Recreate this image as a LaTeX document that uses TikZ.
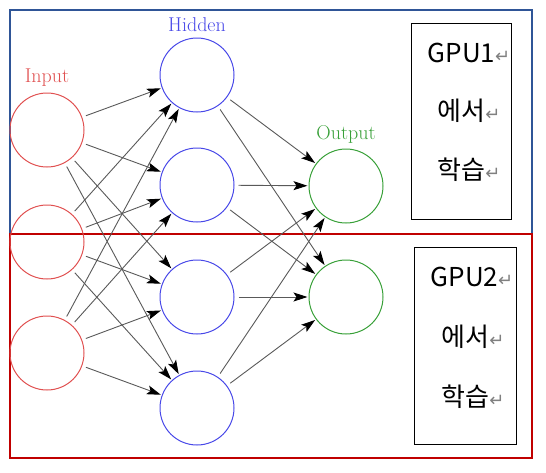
\documentclass[tikz,border=0pt]{standalone}
\usepackage{fontspec}
\newfontfamily\kr{Noto Sans CJK KR}
\newfontfamily\dv{DejaVu Sans}
\usetikzlibrary{arrows.meta}
\definecolor{gpublue}{HTML}{2F5597}
\definecolor{gpured}{HTML}{C00000}
\definecolor{inred}{HTML}{E05050}
\definecolor{hidblue}{HTML}{4848E8}
\definecolor{outgreen}{HTML}{38A038}
\newcommand{\retmark}{{\dv\fontsize{18}{20}\selectfont\color{gray}↵}}
\begin{document}
\begin{tikzpicture}[x=1pt,y=-1pt,
  neuron/.style={circle,minimum size=74pt,inner sep=0pt,line width=1pt},
  inneuron/.style={neuron,draw=inred},
  hidneuron/.style={neuron,draw=hidblue},
  outneuron/.style={neuron,draw=outgreen},
  layerlabel/.style={font=\fontsize{20}{22}\selectfont,inner sep=0pt},
  conn/.style={draw=black!65,line width=0.9pt,-{Stealth[length=14pt,width=9pt,inset=3pt,black]},shorten <=4pt,shorten >=1pt},
  gpubox/.style={draw=black,line width=0.9pt},
  gputext/.style={font=\kr\fontsize{26}{28}\selectfont,inner sep=0pt}
]
\useasboundingbox (0,0) rectangle (546,472);
\draw[gpublue,line width=2pt] (9.5,10) rectangle (532,234);
\draw[gpured,line width=2pt] (9.5,234) rectangle (532,458);

\node[inneuron] (i1) at (47,130) {};
\node[inneuron] (i2) at (47,242) {};
\node[inneuron] (i3) at (47,353) {};
\node[hidneuron] (h1) at (197,75) {};
\node[hidneuron] (h2) at (197,185) {};
\node[hidneuron] (h3) at (197,297) {};
\node[hidneuron] (h4) at (197,408) {};
\node[outneuron] (o1) at (346,186) {};
\node[outneuron] (o2) at (346,297) {};

\node[layerlabel,text=inred] (lin) at (47,78) {Input};
\node[layerlabel,text=hidblue] (lhid) at (197,25) {Hidden};
\node[layerlabel,text=outgreen] (lout) at (346,134) {Output};

\foreach \a in {i1,i2,i3}
  \foreach \b in {h1,h2,h3,h4}
    \draw[conn] (\a) -- (\b);
\foreach \a in {h1,h2,h3,h4}
  \foreach \b in {o1,o2}
    \draw[conn] (\a) -- (\b);

\node[gpubox,minimum width=100pt,minimum height=196pt,anchor=north west] (g1) at (411,23) {};
\node[gputext] (g1a) at (469,53) {GPU1\retmark};
\node[gputext] (g1b) at (469,111) {에서\retmark};
\node[gputext] (g1c) at (469,170) {학습\retmark};

\node[gpubox,minimum width=102pt,minimum height=197pt,anchor=north west] (g2) at (414,247) {};
\node[gputext] (g2a) at (472,277) {GPU2\retmark};
\node[gputext] (g2b) at (473,337) {에서\retmark};
\node[gputext] (g2c) at (473,397) {학습\retmark};
\end{tikzpicture}
\end{document}
